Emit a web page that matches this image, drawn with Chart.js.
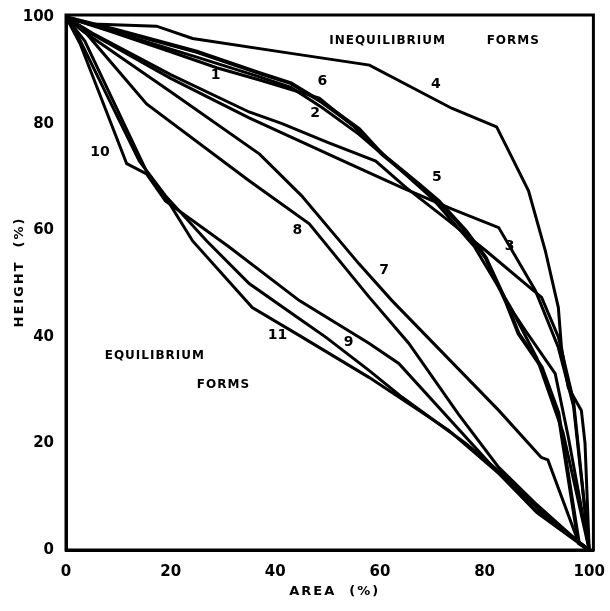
<!DOCTYPE html>
<html>
<head>
<meta charset="utf-8">
<script src="https://cdn.jsdelivr.net/npm/chart.js@4.4.1/dist/chart.umd.min.js"></script>
<style>
  html, body { margin: 0; padding: 0; background: #fff; }
  #wrap { width: 610px; height: 611px; }
</style>
</head>
<body>
<div id="wrap"><canvas id="hypsoChart"></canvas></div>
<script>
// hypsometric curves, [area %, height %]
const curve1 = [[0,100],[8,97.5],[20,93.5],[28.8,90.5],[37,88.2],[48.4,84.8],[55,79.5],[62,73],[70,66],[78,57],[85,45.5],[90,36],[95,22],[100,0]];
const curve2 = [[0,100],[10,97],[25,92.5],[37,88.8],[43,86.8],[49,83],[56,78],[60.4,74.3],[67.4,68.7],[73,63.5],[76.4,59.9],[80.2,54.9],[84,46.8],[87.8,41.2],[93.5,33.1],[96,21.2],[100,0]];
const curve3 = [[0,100],[5,96.8],[20,88.5],[35,81.1],[54.1,72.5],[64.2,68],[73.7,64],[82.7,60.5],[89.7,48.7],[94.1,38],[97,27],[100,0]];
const curve4 = [[0,100],[5,98.7],[17.3,98.3],[24.2,96],[43,93.2],[58,91],[73.7,82.9],[82.3,79.4],[84.6,74.9],[88.4,67.4],[91.6,56.2],[94.1,45.5],[94.7,38],[96,30.5],[98.5,26.2],[99.2,20],[100,0]];
const curve5 = [[0,100],[5,97],[20,89.2],[35,82.2],[41.3,80],[50,76.5],[59.2,73],[65,68],[73.1,61.8],[80.2,56.2],[90.9,47.4],[94.1,40],[97,28],[100,0]];
const curve6 = [[0,100],[10,97.5],[25,93.5],[37,89.5],[43,87.6],[49,84],[56,79],[60.4,74.3],[67.4,68.7],[71.2,65.5],[76.4,59.9],[80.2,54.9],[84,46.8],[86.5,40.6],[90.9,34.3],[94.1,25.7],[98,1.3],[100,0]];
const curve7 = [[0,100],[3.2,97.4],[20,86],[37,74.3],[45,66.5],[56,53.7],[62.3,46.8],[82.7,26.2],[90.8,17.4],[92.1,16.9],[98,1.3],[100,0]];
const curve8 = [[0,100],[4,96.8],[15.4,83.7],[35,69.3],[46.5,61.2],[57.9,47.5],[65.5,38.8],[75,25.5],[82.7,15.5],[90,8.5],[98,1.5],[100,0]];
const curve9 = [[0,100],[2,97],[8,85],[14,73],[19,66.5],[26.9,58],[35,50],[44.6,43.4],[49.7,39.9],[57.9,33.7],[64.2,28.7],[76.4,20],[82.7,14.8],[91,7],[100,0]];
const curve10 = [[0,100],[2.7,95],[11.6,72.5],[15.4,70.6],[19,65.5],[31,57],[44.6,46.8],[57.9,38.8],[63.6,35],[82.7,14.4],[90,7],[98,1.3],[100,0]];
const curve11 = [[0,100],[3.6,95.5],[16,69.8],[19.8,65],[24.2,58],[35.6,45.5],[44,40.6],[57.9,32.4],[63.6,28.7],[73.1,22.5],[82.7,14.4],[89.7,7.5],[96.6,2.4],[100,0]];

const curves = [curve1, curve2, curve3, curve4, curve5, curve6, curve7, curve8, curve9, curve10, curve11];

// curve numbers and where they are written
const curveNames = ["1","2","3","4","5","6","7","8","9","10","11"];
const labelArea = [28.6, 47.6, 84.8, 70.7, 70.9, 49, 60.8, 44.2, 54, 6.5, 40.4];
const labelHeight = [89, 82, 57, 87.4, 70, 88, 52.5, 60, 39, 74.7, 40.3];

// group captions: text, area, height (left edge)
const captions = [
  ["INEQUILIBRIUM", 50.3, 95.5],
  ["FORMS", 80.4, 95.5],
  ["EQUILIBRIUM", 7.4, 36.5],
  ["FORMS", 25, 31]
];

const xTicks = [0, 20, 40, 60, 80, 100];
const yTicks = [0, 20, 40, 60, 80, 100];
const xTitle = "AREA  (%)";
const yTitle = "HEIGHT  (%)";

const FONT = '"DejaVu Sans", sans-serif';

const annotate = {
  id: "annotate",
  afterDatasetsDraw(chart) {
    const { ctx, chartArea, scales } = chart;
    const x = scales.x, y = scales.y;
    ctx.save();
    ctx.strokeStyle = "#000";
    ctx.lineWidth = 3;
    ctx.strokeRect(chartArea.left, chartArea.top, chartArea.width, chartArea.height);

    ctx.fillStyle = "#000";
    ctx.textBaseline = "middle";
    ctx.textAlign = "center";
    ctx.font = "bold 14px " + FONT;
    curveNames.forEach((n, i) => {
      ctx.fillText(n, x.getPixelForValue(labelArea[i]), y.getPixelForValue(labelHeight[i]));
    });

    ctx.textAlign = "left";
    ctx.font = "bold 12px " + FONT;
    ctx.letterSpacing = "1px";
    captions.forEach(c => {
      ctx.fillText(c[0], x.getPixelForValue(c[1]), y.getPixelForValue(c[2]));
    });

    // axis titles
    ctx.font = "bold 13px " + FONT;
    ctx.letterSpacing = "2px";
    ctx.textAlign = "center";
    ctx.fillText(xTitle, (chartArea.left + chartArea.right) / 2 + 5, chartArea.bottom + 42);
    ctx.translate(chartArea.left - 46, chartArea.top + 257);
    ctx.rotate(-Math.PI / 2);
    ctx.fillText(yTitle, 0, 0);
    ctx.restore();
  }
};

new Chart(document.getElementById("hypsoChart"), {
  type: "scatter",
  data: {
    datasets: curves.map((c, i) => ({
      label: curveNames[i],
      data: c.map(p => ({ x: p[0], y: p[1] })),
      showLine: true,
      borderColor: "#000",
      borderWidth: i === 5 ? 4 : 3,
      pointRadius: 0,
      tension: 0,
      fill: false
    }))
  },
  options: {
    responsive: true,
    maintainAspectRatio: false,
    animation: false,
    layout: { padding: { top: 15, right: 16, left: 0, bottom: 0 } },
    plugins: { legend: { display: false }, tooltip: { enabled: false } },
    scales: {
      x: {
        type: "linear",
        min: 0,
        max: 100.8,
        afterBuildTicks: s => { s.ticks = xTicks.map(v => ({ value: v })); },
        afterFit: s => { s.height = 61; },
        grid: { display: false },
        border: { display: true, color: "#000", width: 3 },
        ticks: { color: "#000", padding: 5, maxRotation: 0, font: { family: FONT, size: 15, weight: "bold" } }
      },
      y: {
        type: "linear",
        min: 0,
        max: 100.4,
        afterBuildTicks: s => { s.ticks = yTicks.map(v => ({ value: v })); },
        afterFit: s => { s.width = 66; },
        grid: { display: false },
        border: { display: true, color: "#000", width: 3 },
        ticks: { color: "#000", padding: 4, font: { family: FONT, size: 15, weight: "bold" } }
      }
    }
  },
  plugins: [annotate]
});
</script>
</body>
</html>
